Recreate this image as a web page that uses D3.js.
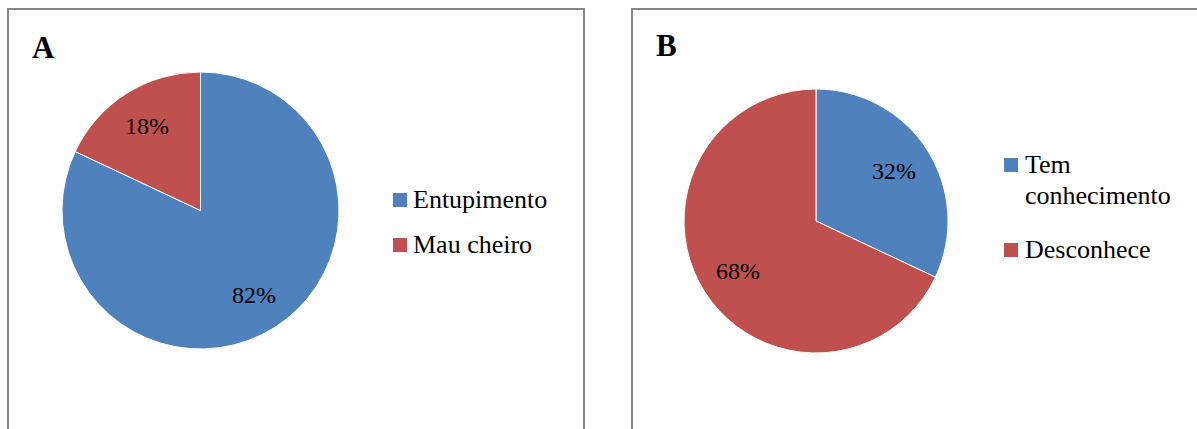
<!DOCTYPE html>
<html>
<head>
<meta charset="utf-8">
<script src="https://cdn.jsdelivr.net/npm/d3@7"></script>
<style>
html,body{margin:0;padding:0;background:#fff;}
svg{display:block;}
text{font-family:"Liberation Serif","Times New Roman",serif;fill:#000;}
</style>
</head>
<body>
<svg id="chart" width="1197" height="429"></svg>
<script>
const titles = ["A", "B"];
const categoriesA = ["Entupimento", "Mau cheiro"];
const valuesA = [82, 18];
const categoriesB = ["Tem conhecimento", "Desconhece"];
const valuesB = [32, 68];
const colors = ["#4F81BD", "#C0504D"];

const svg = d3.select("#chart");

const panels = [
  {title: titles[0], cats: categoriesA, vals: valuesA,
   box: {x: 8, y: 9, w: 576, h: 440}, titlePos: [32, 58],
   cx: 200.5, cy: 210.5, r: 138.5, labelF: 0.72,
   legend: {x: 393, y: [193, 238], textX: 413, wrap: 200}},
  {title: titles[1], cats: categoriesB, vals: valuesB,
   box: {x: 632, y: 9, w: 600, h: 440}, titlePos: [656, 56],
   cx: 816, cy: 221, r: 132, labelF: 0.7,
   legend: {x: 1004, y: [158, 243], textX: 1025, wrap: 160}}
];

panels.forEach(p => {
  const g = svg.append("g");
  g.append("rect")
    .attr("x", p.box.x).attr("y", p.box.y)
    .attr("width", p.box.w).attr("height", p.box.h)
    .attr("fill", "#fff").attr("stroke", "#868686").attr("stroke-width", 2);

  g.append("text")
    .attr("x", p.titlePos[0]).attr("y", p.titlePos[1])
    .attr("font-size", 31).attr("font-weight", "bold")
    .text(p.title);

  const pie = d3.pie().sort(null).value(d => d)(p.vals);
  const arc = d3.arc().innerRadius(0).outerRadius(p.r);
  const labelArc = d3.arc().innerRadius(p.r * p.labelF).outerRadius(p.r * p.labelF);
  const color = d3.scaleOrdinal().domain(p.cats).range(colors);

  const pg = g.append("g").attr("transform", `translate(${p.cx},${p.cy})`);
  pg.selectAll("path").data(pie).join("path")
    .attr("d", arc)
    .attr("fill", (d, i) => color(p.cats[i]))
    .attr("stroke", "#fff").attr("stroke-width", 1);

  pg.selectAll("text.lbl").data(pie).join("text")
    .attr("class", "lbl")
    .attr("transform", d => { const c = labelArc.centroid(d); return `translate(${c[0]},${c[1] + 8})`; })
    .attr("text-anchor", "middle")
    .attr("font-size", 24)
    .text(d => d.data + "%");

  // legend
  p.cats.forEach((c, i) => {
    const ly = p.legend.y[i];
    g.append("rect")
      .attr("x", p.legend.x).attr("y", ly)
      .attr("width", 14).attr("height", 14)
      .attr("fill", color(c));
    const t = g.append("text")
      .attr("x", p.legend.textX).attr("y", ly + 15)
      .attr("font-size", 26);
    const words = c.split(" ");
    let line = [];
    let tspan = t.append("tspan").attr("x", p.legend.textX).attr("dy", 0);
    words.forEach(w => {
      line.push(w);
      tspan.text(line.join(" "));
      if (tspan.node().getComputedTextLength() > p.legend.wrap && line.length > 1) {
        line.pop();
        tspan.text(line.join(" "));
        line = [w];
        tspan = t.append("tspan").attr("x", p.legend.textX).attr("dy", 31).text(w);
      }
    });
  });
});
</script>
</body>
</html>
